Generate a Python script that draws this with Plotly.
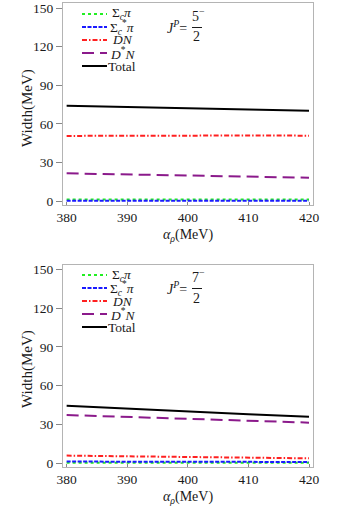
import plotly.graph_objects as go

W, H = 337, 508

alpha = [380, 390, 400, 410, 420]

# J^P = 5/2^-
top_sigc_pi = [1.2, 1.2, 1.2, 1.2, 1.2]
top_sigcs_pi = [0.3, 0.3, 0.3, 0.3, 0.3]
top_DN = [50.6, 50.8, 50.9, 50.9, 50.8]
top_DsN = [21.5, 20.6, 19.7, 18.9, 18.1]
top_total = [74.1, 73.0, 72.1, 71.1, 70.2]

# J^P = 7/2^-
bot_sigc_pi = [0.3, 0.3, 0.3, 0.3, 0.3]
bot_sigcs_pi = [1.3, 1.2, 1.1, 1.0, 1.0]
bot_DN = [5.9, 5.3, 4.7, 4.2, 3.8]
bot_DsN = [37.3, 35.7, 34.1, 32.7, 31.4]
bot_total = [44.5, 42.2, 40.0, 37.9, 36.0]

y_ticks = [0, 30, 60, 90, 120, 150]
x_ticks = [380, 390, 400, 410, 420]

labels = ["Σ<sub><i>c</i></sub><i>π</i>",
          "Σ<sub><i>c</i></sub><sup>*</sup><i>π</i>",
          "<i>DN</i>",
          "<i>D</i><sup>*</sup><i>N</i>",
          "Total"]
styles = [("#22ee22", "dot"),
          ("#1a1aff", "4px,1.5px"),
          ("#ff2020", "5px,2px,1.5px,2px"),
          ("#8b1a8b", "12px,6px"),
          ("#000000", "solid")]

FONT = "Liberation Serif, Times New Roman, Times, serif"
TXT = "#1a1a1a"

def px(x):
    return x / W

def py(y):
    return 1 - y / H

fig = go.Figure()

panels = [
    ("x", "y", [top_sigc_pi, top_sigcs_pi, top_DN, top_DsN, top_total]),
    ("x2", "y2", [bot_sigc_pi, bot_sigcs_pi, bot_DN, bot_DsN, bot_total]),
]
for xa, ya, series in panels:
    for vals, lab, (col, dash) in zip(series, labels, styles):
        fig.add_trace(go.Scatter(x=alpha, y=vals, mode="lines", name=lab,
                                 xaxis=xa, yaxis=ya, showlegend=False,
                                 line=dict(color=col, dash=dash, width=2)))

axis_common = dict(showgrid=False, zeroline=False, showline=True, mirror=True,
                   linecolor="#b4b4b4", linewidth=1.2, automargin=False,
                   tickfont=dict(family=FONT, size=13.5, color=TXT))

def xax(anchor):
    return dict(range=[379.4, 420.66], anchor=anchor, domain=[px(63), px(313)],
                tickvals=x_ticks, ticks="inside", ticklen=3, tickcolor="#888",
                title=dict(text="<i>α</i><sub><i>ρ</i></sub>(MeV)", standoff=4,
                           font=dict(family=FONT, size=14, color=TXT)),
                **axis_common)

def yax(anchor, dom, rng):
    return dict(domain=dom, range=rng, anchor=anchor,
                tickvals=y_ticks, ticks="outside", ticklen=6, tickcolor="#888",
                **axis_common)

fig.update_layout(
    template="none",
    width=W, height=H, margin=dict(l=0, r=0, t=0, b=0, autoexpand=False),
    paper_bgcolor="white", plot_bgcolor="white",
    font=dict(family=FONT, size=14, color=TXT),
    xaxis=xax("y"),
    yaxis=yax("x", [py(205), py(3)], [-3.1, 153.9]),
    xaxis2=xax("y2"),
    yaxis2=yax("x2", [py(467), py(265)], [-2.9, 153.3]),
)

# y-axis titles, legends and J^P labels
row_y = [14, 27, 40, 53, 66]
for off, num in [(0, "5"), (261, "7")]:
    fig.add_annotation(xref="paper", yref="paper", x=px(27), y=py(108 + off),
                       text="Width(MeV)", textangle=-90, showarrow=False,
                       xanchor="center", yanchor="middle",
                       font=dict(family=FONT, size=15, color=TXT))
    for ry, lab, (col, dash) in zip(row_y, labels, styles):
        y = ry + off
        fig.add_shape(type="line", xref="paper", yref="paper",
                      x0=px(82), x1=px(107), y0=py(y), y1=py(y),
                      line=dict(color=col, dash=dash, width=2))
        fig.add_annotation(xref="paper", yref="paper", x=px(122), y=py(y),
                           text=lab, showarrow=False, xanchor="center",
                           yanchor="middle",
                           font=dict(family=FONT, size=13.5, color=TXT))
    fig.add_annotation(xref="paper", yref="paper", x=px(189), y=py(27 + off),
                       text="<i>J</i><sup><i>P</i></sup>=", showarrow=False,
                       xanchor="right", yanchor="middle",
                       font=dict(family=FONT, size=14, color=TXT))
    fig.add_annotation(xref="paper", yref="paper", x=px(198), y=py(15 + off),
                       text=num + "<sup>−</sup>", showarrow=False,
                       xanchor="center", yanchor="middle",
                       font=dict(family=FONT, size=14, color=TXT))
    fig.add_shape(type="line", xref="paper", yref="paper",
                  x0=px(192), x1=px(202), y0=py(27.5 + off), y1=py(27.5 + off),
                  line=dict(color=TXT, width=1))
    fig.add_annotation(xref="paper", yref="paper", x=px(196.5), y=py(37 + off),
                       text="2", showarrow=False,
                       xanchor="center", yanchor="middle",
                       font=dict(family=FONT, size=14, color=TXT))

fig.write_html("out.html", config={"displayModeBar": False},
               post_script="document.body.style.margin='0';"
                           "document.body.style.overflow='hidden';")
